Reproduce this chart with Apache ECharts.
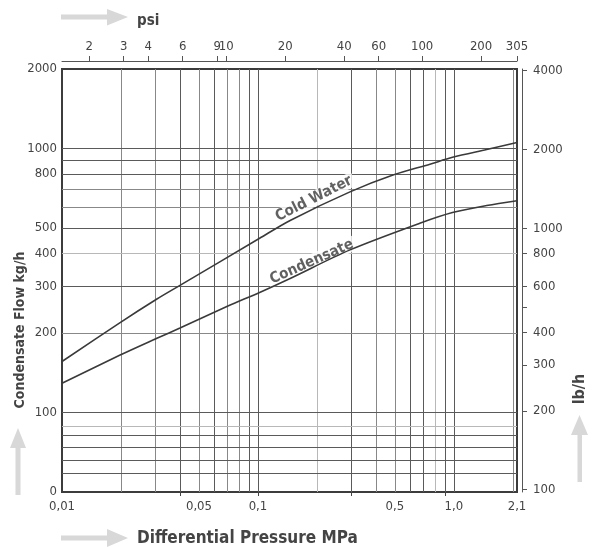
<!DOCTYPE html>
<html>
<head>
<meta charset="utf-8">
<script src="https://cdn.jsdelivr.net/npm/echarts@6/dist/echarts.min.js"></script>
<style>
html,body{margin:0;padding:0;background:#fff;}
#chart{width:592px;height:547px;}
</style>
</head>
<body>
<div id="chart"></div>
<script>
// ---------- data ----------
const coldWaterMPa = [0.01, 0.0198, 0.0305, 0.04, 0.102, 0.146, 0.295, 0.489, 0.755, 0.984, 1.47, 2.1];
const coldWaterKgh = [156, 219, 269, 303, 457, 534, 685, 793, 872, 926, 991, 1053];
const condensateMPa = [0.01, 0.0198, 0.0305, 0.04, 0.0703, 0.102, 0.146, 0.295, 0.67, 0.984, 1.47, 2.1];
const condensateKgh = [129, 165, 191, 209, 253, 285, 322, 413, 521, 572, 608, 634];

const mpaTickLabels = [0.01, 0.05, 0.1, 0.5, 1.0, 2.1];
const mpaTickMarks = [0.04, 0.1, 0.3, 0.9];
const psiTickLabels = [2, 3, 4, 6, 9, 10, 20, 40, 60, 100, 200, 305];
const kghTickLabels = [50, 100, 200, 300, 400, 500, 800, 1000, 2000];
const lbhTickLabels = [100, 200, 300, 400, 600, 800, 1000, 2000, 4000];
const lbhTickMarks = [100, 200, 300, 400, 500, 600, 800, 1000, 2000, 4000];

const mpaGridValues = [0.02, 0.03, 0.04, 0.05, 0.06, 0.07, 0.08, 0.09, 0.1, 0.2, 0.3, 0.4, 0.5, 0.6, 0.7, 0.8, 0.9, 1.0, 2.0];
const kghGridValues = [59, 66, 74, 82, 89, 100, 200, 300, 400, 500, 600, 700, 800, 900, 1000];

const axisRanges = { mpa: [0.01, 2.1], psi: [305 / 210, 305], kgh: [50, 2000], lbh: [98, 4060] };

// ---------- styles ----------
const DARK = '#5a5a5a', MID = '#888888', LIGHT = '#b8b8b8';
const xTone = [MID, MID, DARK, MID, DARK, MID, MID, DARK, DARK, LIGHT, DARK, MID, MID, DARK, DARK, LIGHT, DARK, DARK, MID];
const yTone = [DARK, DARK, DARK, DARK, LIGHT, DARK, MID, DARK, LIGHT, DARK, MID, MID, DARK, DARK, DARK];
const FONT = "'DejaVu Sans Condensed', 'DejaVu Sans', sans-serif";
const TXT = '#444';
const boldFont = px => "bold " + px + "px 'DejaVu Sans Condensed', 'DejaVu Sans', sans-serif";

function fmtMPa(v) {
  const r = +(+v).toPrecision(3);
  if (r >= 1) return r.toFixed(1).replace('.', ',');
  return String(r).replace('.', ',');
}

const chart = echarts.init(document.getElementById('chart'), null, { renderer: 'canvas' });

const numLabel = { color: TXT, fontFamily: FONT, fontSize: 13 };

const option = {
  animation: false,
  backgroundColor: '#fff',
  grid: { left: 62, right: 75, top: 69, bottom: 55, show: true, borderColor: '#3c3c3c', borderWidth: 2, backgroundColor: 'transparent' },
  xAxis: [
    {
      type: 'log', min: axisRanges.mpa[0], max: axisRanges.mpa[1], position: 'bottom',
      axisLine: { show: false },
      axisTick: { show: true, customValues: mpaTickMarks, length: 4, lineStyle: { color: '#444' } },
      axisLabel: Object.assign({ customValues: mpaTickLabels, margin: 8, formatter: fmtMPa }, numLabel),
      splitLine: { show: false }, minorTick: { show: false }, minorSplitLine: { show: false }
    },
    {
      type: 'log', min: axisRanges.psi[0], max: axisRanges.psi[1], position: 'top', offset: 8,
      axisLine: { show: true, lineStyle: { color: '#555', width: 1 } },
      axisTick: { show: true, customValues: psiTickLabels, length: 5, lineStyle: { color: '#555' } },
      axisLabel: Object.assign({ customValues: psiTickLabels, margin: 8 }, numLabel),
      splitLine: { show: false }
    }
  ],
  yAxis: [
    {
      type: 'log', min: axisRanges.kgh[0], max: axisRanges.kgh[1], position: 'left',
      axisLine: { show: false }, axisTick: { show: false },
      axisLabel: Object.assign({ customValues: kghTickLabels, margin: 5,
        formatter: v => (v < 60 ? '0' : String(Math.round(v))) }, numLabel),
      splitLine: { show: false }
    },
    {
      type: 'log', min: axisRanges.lbh[0], max: axisRanges.lbh[1], position: 'right', offset: 5,
      axisLine: { show: true, lineStyle: { color: '#555', width: 1 } },
      axisTick: { show: true, customValues: lbhTickMarks, length: 5, lineStyle: { color: '#555' } },
      axisLabel: Object.assign({ customValues: lbhTickLabels, margin: 11,
        formatter: v => String(Math.round(v)) }, numLabel),
      splitLine: { show: false }
    }
  ],
  series: [
    {
      name: 'grid', type: 'line', xAxisIndex: 0, yAxisIndex: 0, data: [], z: 1, silent: true,
      markLine: {
        z: 1, silent: true, symbol: ['none', 'none'], animation: false,
        label: { show: false },
        lineStyle: { type: 'solid', width: 1 },
        emphasis: { disabled: true },
        data: mpaGridValues.map((v, i) => ({ xAxis: v, lineStyle: { color: xTone[i], type: 'solid', width: 1 } }))
          .concat(kghGridValues.map((v, i) => ({ yAxis: v, lineStyle: { color: yTone[i], type: 'solid', width: 1 } })))
      }
    },
    {
      name: 'labels', type: 'scatter', xAxisIndex: 0, yAxisIndex: 0, z: 2, silent: true,
      symbolSize: 0,
      data: [
        { value: [0.193, 645], label: { formatter: 'Cold Water', rotate: 27 } },
        { value: [0.188, 372], label: { formatter: 'Condensate', rotate: 24 } }
      ],
      label: { show: true, position: 'inside', color: '#3a3a3a', fontFamily: FONT, fontWeight: 'bold', fontSize: 15,
        backgroundColor: '#fff', padding: [0, 3] }
    },
    {
      name: 'Cold Water', type: 'line', xAxisIndex: 0, yAxisIndex: 0, z: 3,
      data: coldWaterMPa.map((x, i) => [x, coldWaterKgh[i]]),
      smooth: 0.3, symbol: 'none', lineStyle: { color: '#3a3a3a', width: 1.6 }
    },
    {
      name: 'Condensate', type: 'line', xAxisIndex: 0, yAxisIndex: 0, z: 3,
      data: condensateMPa.map((x, i) => [x, condensateKgh[i]]),
      smooth: 0.3, symbol: 'none', lineStyle: { color: '#3a3a3a', width: 1.6 }
    }
  ],
  graphic: [
    // arrows
    { type: 'polygon', silent: true, shape: { points: [[61, 14.5], [107, 14.5], [107, 9], [128, 17], [107, 25.5], [107, 19.5], [61, 19.5]] }, style: { fill: '#d8d8d8' } },
    { type: 'polygon', silent: true, shape: { points: [[61, 535.5], [107, 535.5], [107, 529], [128, 538], [107, 547], [107, 540.5], [61, 540.5]] }, style: { fill: '#d8d8d8' } },
    { type: 'polygon', silent: true, shape: { points: [[15.5, 495], [15.5, 448], [10, 448], [18, 428], [26, 448], [20.5, 448], [20.5, 495]] }, style: { fill: '#d8d8d8' } },
    { type: 'polygon', silent: true, shape: { points: [[577.5, 482], [577.5, 435], [571, 435], [579.5, 415], [588, 435], [582, 435], [582, 482]] }, style: { fill: '#d8d8d8' } },
    // titles
    { type: 'text', silent: true, x: 137, y: 21, style: { text: 'psi', fill: TXT, font: boldFont(15), align: 'left', verticalAlign: 'middle' } },
    { type: 'text', silent: true, x: 137, y: 539, style: { text: 'Differential Pressure MPa', fill: TXT, font: boldFont(17), align: 'left', verticalAlign: 'middle' } },
    { type: 'text', silent: true, x: 20, y: 330, rotation: Math.PI / 2, style: { text: 'Condensate Flow kg/h', fill: TXT, font: boldFont(14), align: 'center', verticalAlign: 'middle' } },
    { type: 'text', silent: true, x: 580, y: 389, rotation: Math.PI / 2, style: { text: 'lb/h', fill: TXT, font: boldFont(16), align: 'center', verticalAlign: 'middle' } }
  ]
};

chart.setOption(option);
</script>
</body>
</html>
